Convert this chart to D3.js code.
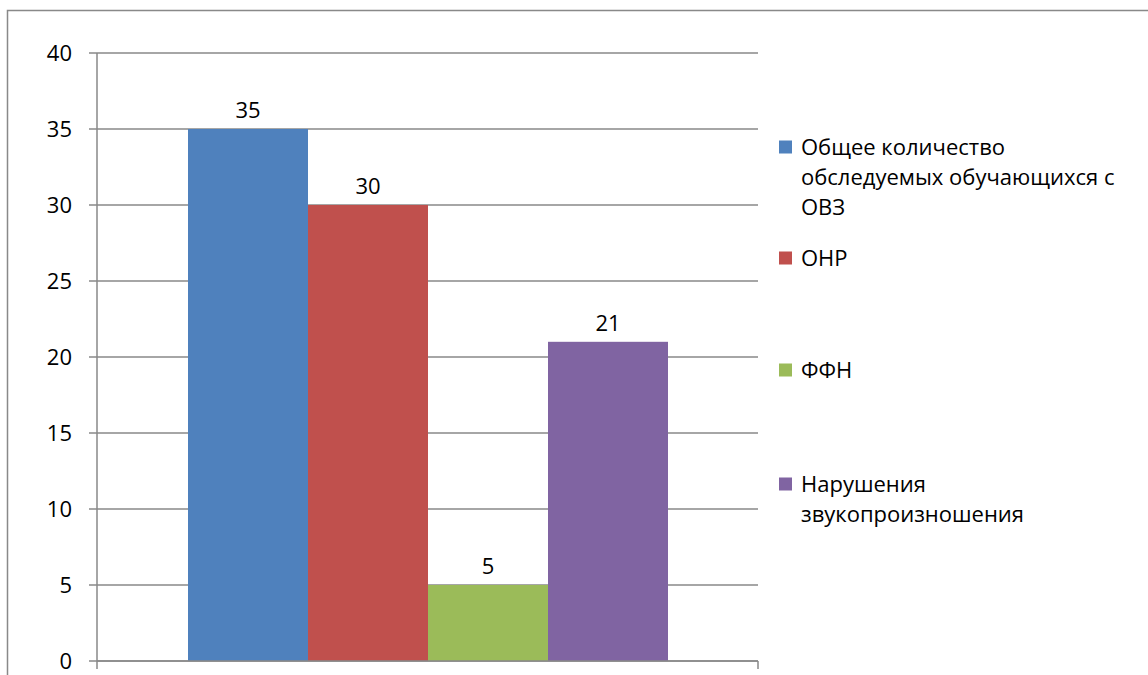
<!DOCTYPE html>
<html><head><meta charset="utf-8">
<script src="https://cdn.jsdelivr.net/npm/d3@7"></script>
<style>body{margin:0;background:#fff}svg{display:block}text{font-family:"Open Sans","Noto Sans",sans-serif;fill:#000}</style>
</head><body><svg id="c" width="1148" height="675"></svg>
<script>
const seriesNames = [
  ["Общее количество", "обследуемых обучающихся с", "ОВЗ"],
  ["ОНР"],
  ["ФФН"],
  ["Нарушения", "звукопроизношения"]
];
const seriesValues = [35, 30, 5, 21];
const seriesColors = ["#4F81BD", "#C0504D", "#9BBB59", "#8064A2"];
const yTicks = [0, 5, 10, 15, 20, 25, 30, 35, 40];

const svg = d3.select("#c");
const grey = "#898989";
const fs = 22;
// outer border
svg.append("path").attr("d","M7.5,675 V10.5 H1148").attr("fill","none").attr("stroke",grey).attr("stroke-width",1.5);

const pLeft = 97, pRight = 758, pTop = 53, pBottom = 661;
const y = d3.scaleLinear().domain([0, 40]).range([pBottom, pTop]);
const x = d3.scaleBand().domain(d3.range(4)).range([188, 668]).padding(0);

// gridlines
svg.append("g").selectAll("line").data(yTicks).join("line")
  .attr("x1", pLeft - 8).attr("x2", pRight)
  .attr("y1", d => y(d)).attr("y2", d => y(d))
  .attr("stroke", grey).attr("stroke-width", 1.5);
// y-axis
svg.append("line").attr("x1", pLeft).attr("x2", pLeft).attr("y1", pTop).attr("y2", pBottom + 8).attr("stroke", grey).attr("stroke-width", 1.5);
svg.append("line").attr("x1", pRight).attr("x2", pRight).attr("y1", pBottom).attr("y2", pBottom + 8).attr("stroke", grey).attr("stroke-width", 1.5);

// tick labels
svg.append("g").selectAll("text").data(yTicks).join("text")
  .attr("x", 72).attr("y", d => y(d)).attr("dy", "0.36em")
  .attr("text-anchor", "end").attr("font-size", fs).text(d => d);

// bars
svg.append("g").selectAll("rect").data(seriesValues).join("rect")
  .attr("x", (d, i) => x(i)).attr("width", x.bandwidth())
  .attr("y", d => y(d)).attr("height", d => pBottom - y(d))
  .attr("fill", (d, i) => seriesColors[i]);
svg.append("line").attr("x1", pLeft).attr("x2", pRight).attr("y1", pBottom).attr("y2", pBottom).attr("stroke", grey).attr("stroke-width", 1.5);

// value labels
svg.append("g").selectAll("text").data(seriesValues).join("text")
  .attr("x", (d, i) => x(i) + x.bandwidth() / 2).attr("y", d => y(d) - 19)
  .attr("dy", "0.36em")
  .attr("text-anchor", "middle").attr("font-size", fs).text(d => d);

// legend
const legendY = [147, 258, 370, 484];
const lg = svg.append("g");
seriesNames.forEach((lines, i) => {
  lg.append("rect").attr("x", 779).attr("y", legendY[i] - 6.5).attr("width", 13).attr("height", 13).attr("fill", seriesColors[i]);
  lines.forEach((t, j) => {
    lg.append("text").attr("x", 801).attr("y", legendY[i] + j * 30).attr("dy", "0.36em").attr("font-size", fs).text(t);
  });
});
</script></body></html>
